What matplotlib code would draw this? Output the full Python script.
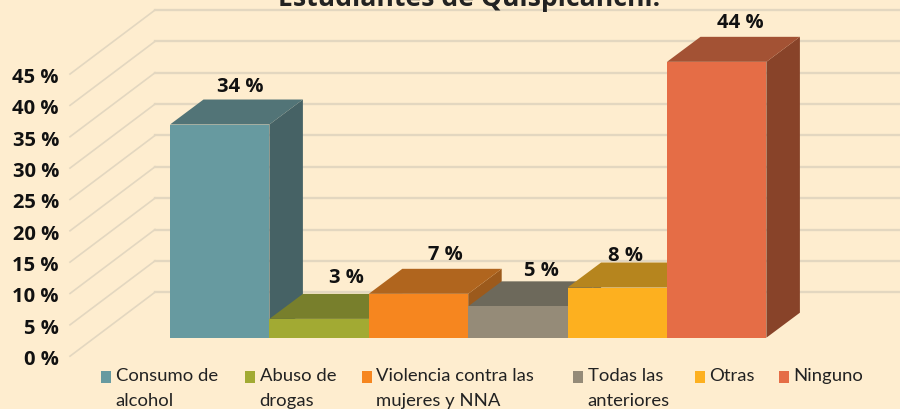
import matplotlib
matplotlib.use("Agg")
import matplotlib.pyplot as plt
from matplotlib.patches import Polygon, Rectangle

categories = ["Consumo de\nalcohol", "Abuso de\ndrogas", "Violencia contra las\nmujeres y NNA",
              "Todas las\nanteriores", "Otras", "Ninguno"]
values = [34, 3, 7, 5, 8, 44]
ticks = [0, 5, 10, 15, 20, 25, 30, 35, 40, 45]
front_colors = ["#679AA0", "#A2AA33", "#F6861F", "#958B78", "#FDB01F", "#E56D46"]
top_colors = ["#527477", "#787F2C", "#B0651E", "#6D695B", "#B6851E", "#A35234"]
side_colors = ["#466265", "#787F2C", "#9C5A1C", "#6D695B", "#B6851E", "#884329"]
title = "Estudiantes de Quispicanchi."
bg = "#FEEDCF"
grid = "#E3D7C0"

W, H = 900, 410
fig = plt.figure(figsize=(W / 100, H / 100), dpi=100, facecolor=bg)
ax = fig.add_axes([0, 0, 1, 1])
ax.set_facecolor(bg)
ax.axis("off")
PX_X, PX_Y = 99.4, 6.27
BASE = 338.7
ax.set_xlim(-170 / PX_X, (W - 170) / PX_X)
ax.set_ylim(-(H - BASE) / PX_Y, BASE / PX_Y)

# depth offsets, in data units
wall_right = 900 / PX_X
front_dx, front_dy = -100 / PX_X, -18.5 / PX_Y
back_dx, back_dy = -15 / PX_X, 45.5 / PX_Y
bar_dx, bar_dy = 33.5 / PX_X, 25 / PX_Y

for t in ticks:
    y0 = t + front_dy
    y1 = t + back_dy
    ax.plot([front_dx, back_dx], [y0, y1], color=grid, lw=1.2, zorder=1)
    ax.plot([back_dx, wall_right], [y1, y1], color=grid, lw=1.7, zorder=1)
    ax.text(-111 / PX_X, y0 - 3 / PX_Y, f"{t} %", ha="right", va="center", fontsize=14.5,
            fontweight="bold", family="Open Sans", color="#111111", zorder=6)

for i, v in enumerate(values):
    z = 2 + i * 0.1
    ax.add_patch(Polygon([(i + 1, 0), (i + 1 + bar_dx, bar_dy), (i + 1 + bar_dx, v + bar_dy), (i + 1, v)],
                         fc=side_colors[i], ec="none", zorder=z))
    ax.add_patch(Polygon([(i, v), (i + bar_dx, v + bar_dy), (i + 1 + bar_dx, v + bar_dy), (i + 1, v)],
                         fc=top_colors[i], ec="none", zorder=z))
    ax.add_patch(Rectangle((i, 0), 1, v, fc=front_colors[i], ec="none", zorder=z))

label_offset = [(70, 14), (77, 17), (77, 15), (73, 11), (58, 8), (73, 15)]
for i, v in enumerate(values):
    dx, dy = label_offset[i]
    ax.text(i + dx / PX_X, v + bar_dy + dy / PX_Y, f"{v} %", ha="center", va="center",
            fontsize=14.5, fontweight="bold", family="Open Sans", color="#111111", zorder=7)

legend_x = [101, 245, 362, 573, 695, 779]
for i, c in enumerate(categories):
    x = (legend_x[i] - 170) / PX_X
    ax.add_patch(Rectangle((x, -33.5 / PX_Y), 10 / PX_X, -12 / PX_Y, fc=front_colors[i], ec="none", zorder=5))
    ax.text(x + 14.5 / PX_X, -29 / PX_Y, c, ha="left", va="top", fontsize=13.3,
            family="Lato", color="#222222", linespacing=1.72, zorder=6)

ax.text((469 - 170) / PX_X, (BASE + 1.5) / PX_Y, title, ha="center", va="center", fontsize=19.2,
        fontweight="bold", family="Open Sans", color="#222222", zorder=8)

fig.savefig("out.png", dpi=100, facecolor=bg)
